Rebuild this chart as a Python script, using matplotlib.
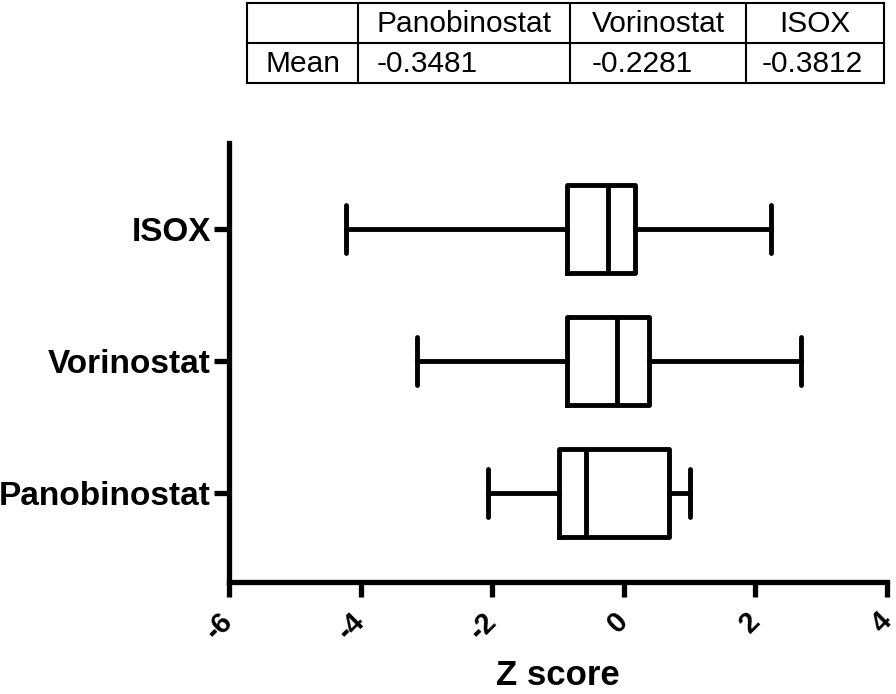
import matplotlib
matplotlib.use("Agg")
import matplotlib.pyplot as plt
from matplotlib.lines import Line2D

plt.rcParams['font.family'] = ['Liberation Sans', 'DejaVu Sans']

# ---- data ----
groups = ["Panobinostat", "Vorinostat", "ISOX"]
whisker_low = [-2.07, -3.14, -4.22]
q1 = [-0.98, -0.87, -0.87]
median = [-0.58, -0.11, -0.24]
q3 = [0.69, 0.38, 0.17]
whisker_high = [1.01, 2.70, 2.24]
means = ["-0.3481", "-0.2281", "-0.3812"]
xticks = [-6, -4, -2, 0, 2, 4]
xlabel = "Z score"
row_label = "Mean"

W, H = 896, 694
fig = plt.figure(figsize=(W / 100, H / 100), dpi=100)
ax = fig.add_axes([229 / W, 1 - 582 / H, (887 - 229) / W, (582 - 143) / H])

stats = []
for i, g in enumerate(groups):
    stats.append(dict(label=g, whislo=whisker_low[i], q1=q1[i], med=median[i],
                      q3=q3[i], whishi=whisker_high[i], fliers=[]))

lw = 3.5
ax.bxp(stats, positions=[1, 2, 3], vert=False, widths=0.667, capwidths=0.36,
       showfliers=False, patch_artist=False,
       boxprops=dict(color='black', linewidth=lw),
       medianprops=dict(color='black', linewidth=lw),
       whiskerprops=dict(color='black', linewidth=lw),
       capprops=dict(color='black', linewidth=lw, solid_capstyle='round'))

ax.set_xlim(-6, 4)
ax.set_ylim(0.326, 3.65)
ax.spines['top'].set_visible(False)
ax.spines['right'].set_visible(False)
for s in ['left', 'bottom']:
    ax.spines[s].set_linewidth(3.8)
ax.set_yticks([1, 2, 3])
ax.set_yticklabels(groups, fontsize=24, fontweight='bold')
ax.set_xticks(xticks)
ax.set_xticklabels([str(t) for t in xticks], fontsize=21, fontweight='bold',
                   rotation=45, ha='right', va='center', rotation_mode='anchor')
ax.tick_params(axis='both', length=11, width=3.8, direction='out', color='black')
ax.tick_params(axis='y', pad=2)
ax.tick_params(axis='x', pad=14)
ax.set_xlabel(xlabel, fontsize=25, fontweight='bold', labelpad=10)

# ---- table ----
xs = [247, 358, 570, 746, 884]
ys = [3, 43, 83]
tlw = 1.5
for x in xs:
    fig.add_artist(Line2D([x / W, x / W], [1 - ys[0] / H, 1 - ys[-1] / H],
                          color='black', linewidth=tlw))
for y in ys:
    fig.add_artist(Line2D([xs[0] / W, xs[-1] / W], [1 - y / H, 1 - y / H],
                          color='black', linewidth=tlw))
tfs = 21.5
for i, g in enumerate(groups):
    cx = (xs[i + 1] + xs[i + 2]) / 2
    fig.text(cx / W, 1 - 24 / H, g, fontsize=tfs, ha='center', va='center')
val_x = [377, 592, 762]
for i, m in enumerate(means):
    fig.text(val_x[i] / W, 1 - 64 / H, m, fontsize=tfs, ha='left', va='center')
fig.text(((xs[0] + xs[1]) / 2) / W, 1 - 64 / H, row_label, fontsize=tfs,
         ha='center', va='center')

fig.savefig("out.png", dpi=100)
